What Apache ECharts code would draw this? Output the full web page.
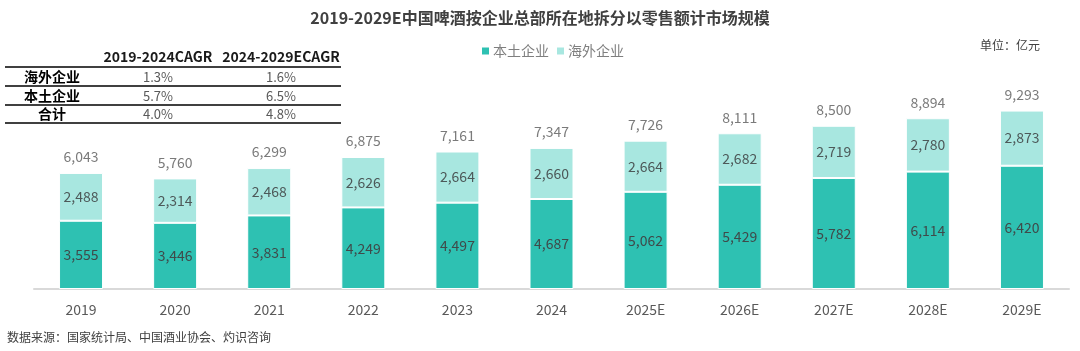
<!DOCTYPE html>
<html>
<head>
<meta charset="utf-8">
<title>中国啤酒市场规模</title>
<script src="https://cdn.jsdelivr.net/npm/echarts@6/dist/echarts.min.js"></script>
<style>
  html, body { margin: 0; padding: 0; background: #fff; }
  #main { width: 1080px; height: 351px; }
</style>
</head>
<body>
<div id="main"></div>
<script>
// 数据
var years = ['2019', '2020', '2021', '2022', '2023', '2024', '2025E', '2026E', '2027E', '2028E', '2029E'];
var domestic = [3555, 3446, 3831, 4249, 4497, 4687, 5062, 5429, 5782, 6114, 6420];
var foreign = [2488, 2314, 2468, 2626, 2664, 2660, 2664, 2682, 2719, 2780, 2873];
var totals = [6043, 5760, 6299, 6875, 7161, 7347, 7726, 8111, 8500, 8894, 9293];

// CAGR 表格
var cagrHeaders = ['2019-2024CAGR', '2024-2029ECAGR'];
var cagrRows = ['海外企业', '本土企业', '合计'];
var cagrFirst = ['1.3%', '5.7%', '4.0%'];
var cagrSecond = ['1.6%', '6.5%', '4.8%'];

var FONT = '"Noto Sans CJK SC", "Liberation Sans", sans-serif';
var fmt = function (v) { return v.toLocaleString('en-US'); };

var myChart = echarts.init(document.getElementById('main'));

// 表格用 graphic 画
var graphics = [];
var colX = [158, 281];
var rowY = [77, 96, 114];
var lineY = [67, 86, 105, 123];
cagrHeaders.forEach(function (h, i) {
    graphics.push({
        type: 'text', x: colX[i], y: 57,
        style: { text: h, fontSize: 14, fontWeight: 'bold', fill: '#1a1a1a', fontFamily: FONT, align: 'center', verticalAlign: 'middle' }
    });
});
lineY.forEach(function (y) {
    graphics.push({
        type: 'line', shape: { x1: 5, y1: y, x2: 341, y2: y },
        style: { stroke: '#000', lineWidth: 1.5 }
    });
});
cagrRows.forEach(function (r, i) {
    graphics.push({
        type: 'text', x: 52, y: rowY[i],
        style: { text: r, fontSize: 14, fontWeight: 'bold', fill: '#000', fontFamily: FONT, align: 'center', verticalAlign: 'middle' }
    });
    graphics.push({
        type: 'text', x: colX[0], y: rowY[i],
        style: { text: cagrFirst[i], fontSize: 13, fill: '#595959', fontFamily: FONT, align: 'center', verticalAlign: 'middle' }
    });
    graphics.push({
        type: 'text', x: colX[1], y: rowY[i],
        style: { text: cagrSecond[i], fontSize: 13, fill: '#595959', fontFamily: FONT, align: 'center', verticalAlign: 'middle' }
    });
});
graphics.push({
    type: 'text', right: 40, top: 39,
    style: { text: '单位：亿元', fontSize: 12, fill: '#404040', fontFamily: FONT }
});
graphics.push({
    type: 'text', left: 7, top: 331,
    style: { text: '数据来源：国家统计局、中国酒业协会、灼识咨询', fontSize: 12, fill: '#404040', fontFamily: FONT }
});

option = {
    textStyle: { fontFamily: FONT },
    title: {
        text: '2019-2029E中国啤酒按企业总部所在地拆分以零售额计市场规模',
        left: 'center',
        top: 5,
        textStyle: { fontSize: 16, fontWeight: 'bold', color: '#404040', fontFamily: FONT }
    },
    legend: {
        data: ['本土企业', '海外企业'],
        left: 475,
        top: 39,
        itemWidth: 9,
        itemHeight: 9,
        itemGap: 6,
        icon: 'rect',
        textStyle: { fontSize: 14, color: '#7f7f7f', fontFamily: FONT, padding: [0, 0, 0, -2] }
    },
    grid: { left: 34, right: 11, top: 97, bottom: 62 },
    xAxis: {
        type: 'category',
        data: years,
        axisLine: { lineStyle: { color: '#d9d9d9', width: 2 } },
        axisTick: { show: false },
        axisLabel: { color: '#595959', fontSize: 14, margin: 14 }
    },
    yAxis: {
        type: 'value',
        min: 0,
        max: 10000,
        show: false,
        splitLine: { show: false }
    },
    graphic: graphics,
    series: [
        {
            name: '本土企业',
            type: 'bar',
            stack: 'total',
            data: domestic,
            barWidth: 44,
            itemStyle: { color: '#2ec1b2', borderColor: '#fff', borderWidth: 1 },
            label: { show: true, position: 'inside', color: '#3f4a4a', fontSize: 14, formatter: function (p) { return fmt(p.value); } }
        },
        {
            name: '海外企业',
            type: 'bar',
            stack: 'total',
            data: foreign,
            barWidth: 44,
            itemStyle: { color: '#a8e7e0', borderColor: '#fff', borderWidth: 1 },
            label: { show: true, position: 'inside', color: '#4d5959', fontSize: 14, formatter: function (p) { return fmt(p.value); } }
        },
        {
            name: '合计',
            type: 'scatter',
            data: totals,
            symbolSize: 2,
            itemStyle: { color: 'rgba(255,255,255,0)' },
            label: { show: true, position: 'top', distance: 8, color: '#595959', fontSize: 14, formatter: function (p) { return fmt(p.value); } },
            silent: true,
            z: 5
        }
    ]
};

myChart.setOption(option);
</script>
</body>
</html>
